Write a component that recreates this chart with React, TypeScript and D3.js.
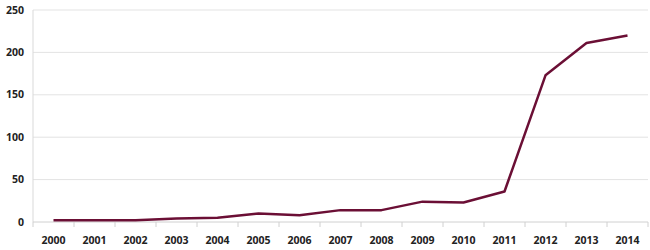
import React from "react";
import * as d3 from "d3";

const years = ["2000","2001","2002","2003","2004","2005","2006","2007","2008","2009","2010","2011","2012","2013","2014"];
const values = [2, 2, 2, 4, 5, 10, 8, 14, 14, 24, 23, 36, 173, 211, 220];
const yTicks = [0, 50, 100, 150, 200, 250];

const W = 650, H = 250;
const left = 33, right = 648, top = 10, bottom = 222;

export default function App() {
  const x = d3.scaleBand<string>().domain(years).range([left, right]);
  const y = d3.scaleLinear().domain([0, 250]).range([bottom, top]);
  const line = d3.line<number>()
    .x((_, i) => (x(years[i]) as number) + x.bandwidth() / 2)
    .y((d) => y(d));
  const boundaries = years.map((yr) => x(yr) as number).concat([right]);
  const font = "'Open Sans', 'Liberation Sans', sans-serif";
  return (
    <svg width={W} height={H} style={{ position: "absolute", left: 0, top: 0, background: "#fff" }}>
      {yTicks.map((t) => (
        <g key={t}>
          {t > 0 && <line x1={left} x2={right} y1={y(t)} y2={y(t)} stroke="#e3e3e3" strokeWidth={1} />}
          <text x={24} y={y(t)} dy="0.35em" textAnchor="end" fontFamily={font} fontWeight="bold" fontSize={10.5} fill="#222">{t}</text>
        </g>
      ))}
      <line x1={left} x2={left} y1={top} y2={bottom} stroke="#d9d9d9" strokeWidth={1} />
      <line x1={left} x2={right} y1={bottom} y2={bottom} stroke="#d0d0d0" strokeWidth={1} />
      {boundaries.map((bx, i) => (
        <line key={i} x1={bx} x2={bx} y1={bottom} y2={bottom + 5} stroke="#d0d0d0" strokeWidth={1} />
      ))}
      {years.map((yr) => (
        <text key={yr} x={(x(yr) as number) + x.bandwidth() / 2} y={244} textAnchor="middle" fontFamily={font} fontWeight="bold" fontSize={10.5} fill="#222">{yr}</text>
      ))}
      <path d={line(values) || ""} fill="none" stroke="#6b0f35" strokeWidth={2.5} strokeLinejoin="round" />
    </svg>
  );
}
